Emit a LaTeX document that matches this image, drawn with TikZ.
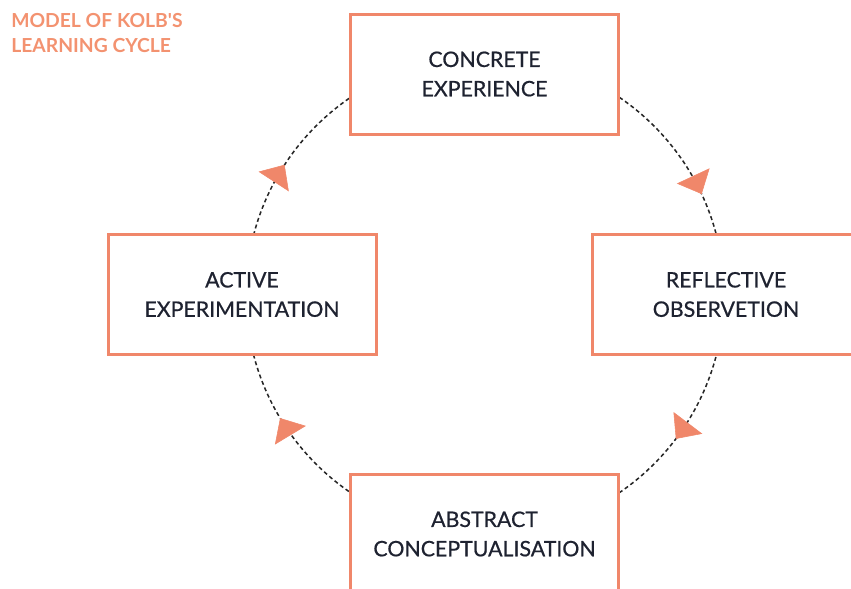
\documentclass[tikz,border=0pt]{standalone}
\usepackage{fontspec}
\usepackage{xcolor}
\usetikzlibrary{arrows.meta, decorations.markings}
\newfontfamily\lato{Lato}
\newfontfamily\latomed[FakeBold=0.6]{Lato}
\definecolor{kolbsalmon}{HTML}{F0876A}
\definecolor{kolbtitle}{HTML}{F39270}
\definecolor{kolbink}{HTML}{1E2230}

\begin{document}
\begin{tikzpicture}[
        x=0.75pt, y=-0.75pt,
        stage/.style={rectangle, draw=kolbsalmon, line width=2.25pt, fill=white, minimum width=201pt, minimum height=90pt, align=center, text=kolbink, font=\latomed\fontsize{16}{22}\selectfont},
        cyclepath/.style={dash pattern=on 3pt off 2.2pt, line width=1.15pt, black!85},
        tip/.style={kolbsalmon},
        cycletips/.style={postaction={decorate}, decoration={markings,
            mark=at position 0.1028 with {\arrow[tip]{Triangle[length=15pt, width=27pt]}},
            mark=at position 0.4139 with {\arrow[tip]{Triangle[length=15pt, width=27pt]}},
            mark=at position 0.5917 with {\arrow[tip]{Triangle[length=15pt, width=27pt]}},
            mark=at position 0.9306 with {\arrow[tip]{Triangle[length=15pt, width=27pt]}}}}
    ]
    \useasboundingbox (0, 0) rectangle (851, 589);
%
    % Title
    \node[anchor=north west, inner sep=0pt, align=left, text=kolbtitle, font=\lato\bfseries\fontsize{14.5}{18.75}\selectfont] (title) at (11, 13) {MODEL OF KOLB'S\\LEARNING CYCLE};
%
    % Cycle (clockwise)
    \coordinate (hub) at (485, 295);
    \draw[cyclepath] (hub) circle[radius=179.25pt];
    \path[cycletips] (hub) ++(0:179.25pt) arc[start angle=0, end angle=-360, radius=179.25pt];
%
    % Stages
    \node[stage] (ce) at (484.5, 74) {CONCRETE\\EXPERIENCE};
    \node[stage] (ro) at (726, 294.5) {REFLECTIVE\\OBSERVETION};
    \node[stage] (ac) at (484.5, 534) {ABSTRACT\\CONCEPTUALISATION};
    \node[stage] (ae) at (242, 294.5) {ACTIVE\\EXPERIMENTATION};
%
\end{tikzpicture}
\end{document}
